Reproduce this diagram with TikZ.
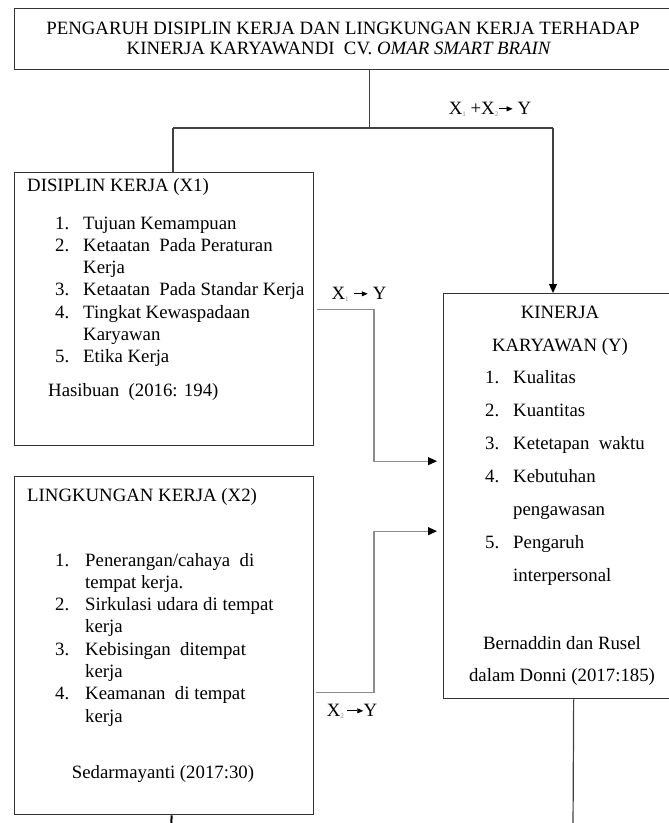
\documentclass[tikz,border=0pt]{standalone}
\usepackage{fontspec}
\setmainfont{Liberation Serif}
\usetikzlibrary{arrows.meta}

\newcommand\toarrow[1]{\tikz[baseline=-0.6ex]\draw[line width=0.7pt,-{Triangle[length=6pt,width=5pt]}] (0pt,0pt) -- (#1,0pt);}
\newcommand\gsub[1]{\raisebox{-2bp}{\fontsize{7bp}{7bp}\selectfont\textcolor{black!50}{#1}}}

\begin{document}
\begin{tikzpicture}[x=1bp,y=-1bp,
  box/.style={draw=black!80, line width=1.3bp, rectangle, anchor=north west, inner sep=0pt},
  link/.style={draw=black!75, line width=1.2bp},
  glink/.style={draw=black!45, line width=1.2bp, -{Triangle[length=9bp,width=8bp,color=black]}, shorten >=6bp},
  txt/.style={anchor=base west, inner sep=0pt},
  ctxt/.style={anchor=base, inner sep=0pt},
  font=\fontsize{18.8bp}{22bp}\selectfont]
\useasboundingbox (0,0) rectangle (669,823);

% Boxes
\node[box, minimum width=710bp, minimum height=61bp] (title) at (14,8) {};
\node[box, minimum width=299bp, minimum height=273bp] (disiplin) at (14,172) {};
\node[box, minimum width=299bp, minimum height=338bp] (lingkungan) at (14,476) {};
\node[box, minimum width=260bp, minimum height=405bp] (kinerja) at (443,293) {};

% Title
\node[ctxt] (t1) at (343,34) {PENGARUH DISIPLIN KERJA DAN LINGKUNGAN KERJA TERHADAP};
\node[ctxt] (t2) at (339,54) {KINERJA KARYAWANDI\ \ CV. \textit{OMAR SMART BRAIN}};

% Disiplin kerja
\node[txt] (dh) at (27,191) {DISIPLIN KERJA (X1)};
\foreach \n/\t [count=\i] in {1./Tujuan Kemampuan, 2./Ketaatan\ \ Pada Peraturan, /Kerja,
    3./Ketaatan\ \ Pada Standar Kerja, 4./Tingkat Kewaspadaan, /Karyawan, 5./Etika Kerja}{
  \node[txt] (dn\i) at (55,{206.7+22.3*\i}) {\n};
  \node[txt] (dt\i) at (83,{206.7+22.3*\i}) {\t};
}
\node[txt] (dsrc) at (48,396) {Hasibuan\ \ (2016: 194)};

% Lingkungan kerja
\node[txt] (lh) at (27,501) {LINGKUNGAN KERJA (X2)};
\foreach \n/\t [count=\i] in {1./Penerangan\slash cahaya\ \ di, /tempat kerja., 2./Sirkulasi udara di tempat, /kerja,
    3./Kebisingan\ \ ditempat, /kerja, 4./Keamanan\ \ di tempat, /kerja}{
  \node[txt] (ln\i) at (55,{543.7+22.3*\i}) {\n};
  \node[txt] (lt\i) at (85,{543.7+22.3*\i}) {\t};
}
\node[ctxt] (lsrc) at (163,778) {Sedarmayanti (2017:30)};

% Kinerja karyawan
\node[ctxt] (kh1) at (560,318) {KINERJA};
\node[ctxt] (kh2) at (560,351) {KARYAWAN (Y)};
\foreach \n/\t [count=\i] in {1./Kualitas, 2./Kuantitas, 3./Ketetapan\ \ waktu, 4./Kebutuhan,
    /pengawasan, 5./Pengaruh, /interpersonal}{
  \node[txt] (kn\i) at (485,{350+33*\i}) {\n};
  \node[txt] (kt\i) at (513,{350+33*\i}) {\t};
}
\node[ctxt] (ks1) at (562,649) {Bernaddin dan Rusel};
\node[ctxt] (ks2) at (562,681) {dalam Donni (2017:185)};

% Links
\coordinate (jl) at (173,128);
\coordinate (jr) at (553,128);
\coordinate (kend) at (573,830);
\coordinate (lend) at (171,830);
\draw[link] (title.south) -- (title.south |- jl);
\draw[link] (jl) -- (jr);
\draw[link] (jl) -- (jl |- disiplin.north);
\draw[link, -{Triangle[length=9bp,width=8bp,color=black]}] (jr) -- (jr |- kinerja.north);
\draw[glink] ([xshift=3bp]disiplin.east) -| ([xshift=-69bp,yshift=35bp]kinerja.west) -- ([yshift=35bp]kinerja.west);
\draw[glink] ([xshift=2bp,yshift=-47bp]lingkungan.east) -| ([xshift=-69bp,yshift=-35bp]kinerja.west) -- ([yshift=-35bp]kinerja.west);
\draw[link] (kinerja.south) -- (kend);
\draw[link, draw=black, line width=2bp] ([xshift=7.5bp]lingkungan.south) -- (lend);

% Labels
\node[ctxt] (l12) at (490,114) {X\gsub{1} +X\gsub{2}\toarrow{14pt} Y};
\node[ctxt] (l1) at (359,299) {X\gsub{1} \toarrow{14pt} Y};
\node[ctxt] (l2) at (352,716) {X\gsub{2}\,\toarrow{16pt}Y};
\end{tikzpicture}
\end{document}
